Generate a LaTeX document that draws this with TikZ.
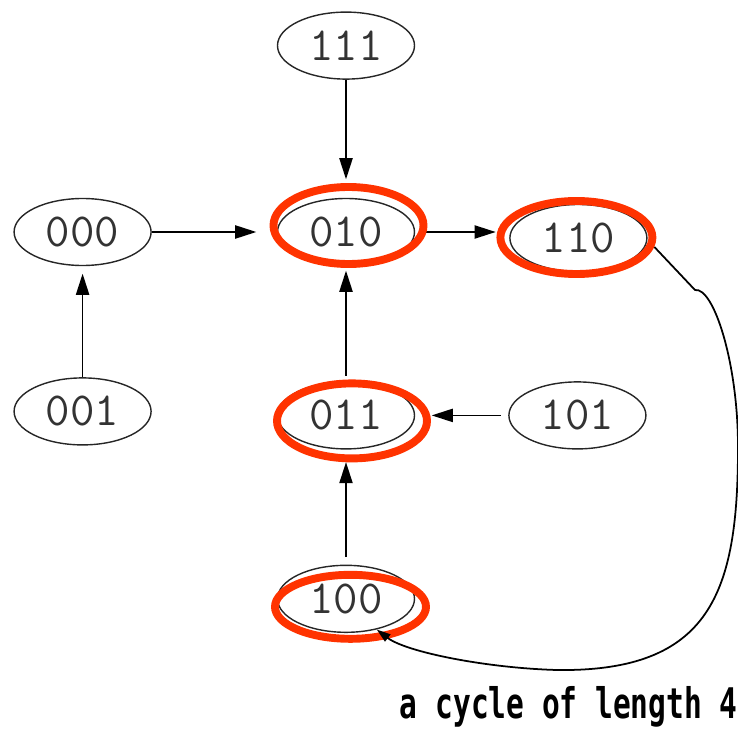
\documentclass[tikz,border=0pt]{standalone}
\usepackage{fontspec}
\newfontfamily\cyclefont{DejaVu Sans Mono}[FakeStretch=0.7]
\usetikzlibrary{positioning,calc,shapes.geometric,arrows.meta}
\definecolor{ringred}{HTML}{FF3300}

\begin{document}
\begin{tikzpicture}[
    state/.style={ellipse,draw=black!85,line width=0.8pt,minimum width=2.74cm,minimum height=1.34cm,inner sep=0pt,text=black!80,font=\ttfamily\fontsize{27}{30}\selectfont},
    edge/.style={-{Triangle[length=12pt,width=7.5pt]},line width=0.9pt},
    ring/.style={draw=ringred,line width=4.5pt}
  ]
  \useasboundingbox (-6.92,4.64) rectangle (7.84,-9.94);

  % states
  \node[state] (n010) {010};
  \node[state,above=2.36cm of n010] (n111) {111};
  \node[state,left=2.5cm of n010] (n000) {000};
  \node[state,right=1.88cm of n010,yshift=-0.12cm] (n110) {110};
  \node[state,below=2.3cm of n010] (n011) {011};
  \node[state,right=1.86cm of n011] (n101) {101};
  \node[state,below=2.3cm of n011] (n100) {100};
  \node[state,below=2.22cm of n000] (n001) {001};

  % transitions
  \draw[edge,shorten >=0.37cm] (n111) -- (n010);
  \draw[edge,shorten >=0.41cm] (n000) -- (n010);
  \draw[edge,shorten <=0.21cm,shorten >=0.27cm] (n010.east) -- (n010.east -| n110.west);
  \draw[edge,shorten <=0.11cm,shorten >=0.09cm] (n011) -- (n010);
  \draw[edge,shorten <=0.15cm,shorten >=0.33cm] (n101) -- (n011);
  \draw[edge,shorten <=0.15cm,shorten >=0.25cm] (n100) -- (n011);
  \draw[edge,shorten >=0.15cm] (n001) -- (n000);

  % the cycle
  \draw[ring] ($(n010)+(0.05,0.13)$) ellipse [x radius=1.5cm,y radius=0.77cm];
  \draw[ring] ($(n110)+(-0.04,0.01)$) ellipse [x radius=1.52cm,y radius=0.73cm];
  \draw[ring] ($(n011)+(0.12,-0.11)$) ellipse [x radius=1.5cm,y radius=0.75cm];
  \draw[ring] ($(n100)+(0.09,-0.16)$) ellipse [x radius=1.51cm,y radius=0.64cm];

  \coordinate (out110) at ($(n110)+(1.52,-0.18)$);
  \coordinate (kink) at (6.98,-1.16);
  \draw[line width=1pt,-{Triangle[length=8pt,width=5pt]}] (out110) -- (kink)
    .. controls (7.35,-1.1) and (7.84,-2.6) .. (7.84,-4.3)
    .. controls (7.84,-7.2) and (7.3,-8.8) .. (4.22,-8.76)
    .. controls (2.8,-8.72) and (1.2,-8.4) .. (n100.-45);

  \node[anchor=base east,inner sep=0pt,font=\cyclefont\bfseries\fontsize{24}{28}\selectfont] (cycle) at (7.84,-9.72) {a cycle of length 4};
\end{tikzpicture}
\end{document}
